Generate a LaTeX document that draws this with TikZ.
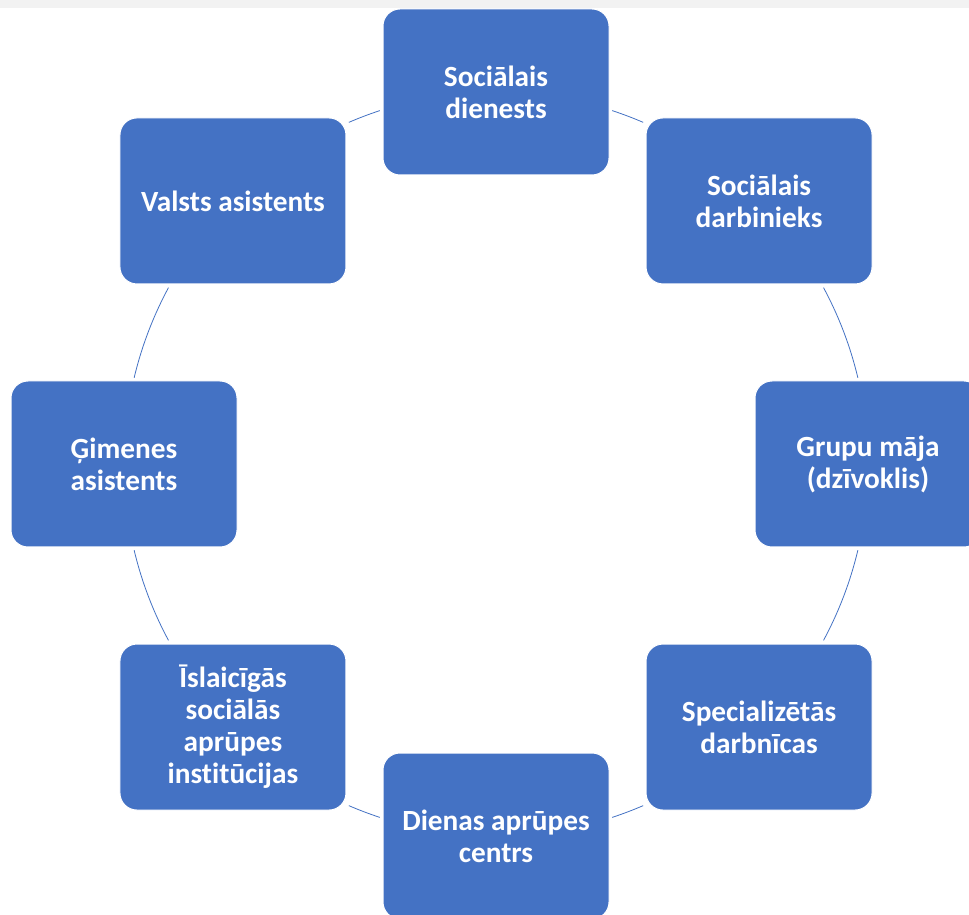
\documentclass[tikz,border=0pt]{standalone}
\usepackage{fontspec}
\setmainfont[Ligatures=NoCommon]{Carlito}
\definecolor{boxblue}{HTML}{4472C4}
\definecolor{stripgray}{HTML}{F2F2F2}
\tikzset{
  cyclebox/.style={rectangle, rounded corners=17pt, fill=boxblue, draw=white,
    line width=1pt, minimum width=226pt, minimum height=166pt, inner sep=0pt,
    text=white, font=\fontsize{29.3}{32}\selectfont\bfseries, align=center},
  conn/.style={draw=boxblue, line width=0.8pt}
}
\begin{document}
\begin{tikzpicture}[x=1pt,y=1pt]
\useasboundingbox (0,0) rectangle (969,914);
\clip (0,0) rectangle (969,914);
\fill[white] (0,0) rectangle (969,914);
\fill[stripgray] (0,906) rectangle (969,914);
\coordinate (C) at (496,450);
% connectors (arcs of the cycle)
\foreach \a/\b in {71.8/66.7, 28.3/13.4, -13.4/-28.3, -66.7/-71.8,
                   -108.2/-113.3, -151.7/-166.6, 166.6/151.7, 113.3/108.2}{
  \draw[conn] ([shift={(\a:372pt)}]C) arc[start angle=\a, end angle=\b, radius=372pt];
}
\node[cyclebox] (n1) at ([shift={(90:372pt)}]C) {Sociālais\\dienests};
\node[cyclebox] (n2) at ([shift={(45:372pt)}]C) {Sociālais\\darbinieks};
\node[cyclebox] (n3) at ([shift={(0:372pt)}]C) {Grupu māja\\(dzīvoklis)};
\node[cyclebox] (n4) at ([shift={(-45:372pt)}]C) {Specializētās\\darbnīcas};
\node[cyclebox] (n5) at ([shift={(-90:372pt)}]C) {Dienas aprūpes\\centrs};
\node[cyclebox] (n6) at ([shift={(-135:372pt)}]C) {Īslaicīgās\\sociālās\\aprūpes\\institūcijas};
\node[cyclebox] (n7) at ([shift={(180:372pt)}]C) {Ģimenes\\asistents};
\node[cyclebox] (n8) at ([shift={(135:372pt)}]C) {Valsts asistents};
\end{tikzpicture}
\end{document}
